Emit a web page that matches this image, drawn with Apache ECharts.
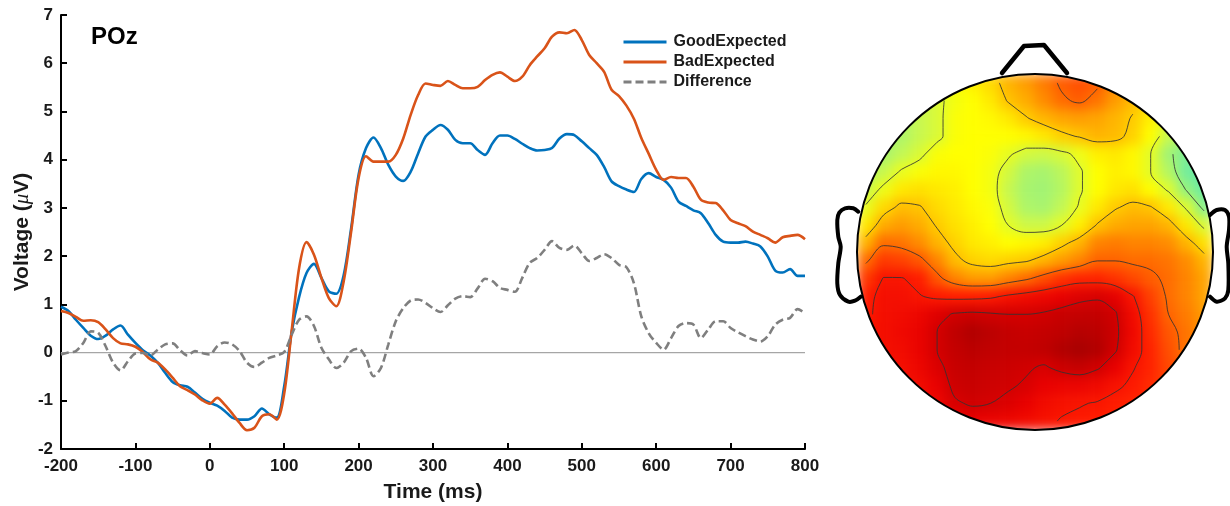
<!DOCTYPE html>
<html>
<head>
<meta charset="utf-8">
<script src="https://cdn.jsdelivr.net/npm/echarts@6/dist/echarts.min.js"></script>
<style>
  html, body { margin: 0; padding: 0; background: #ffffff; }
  #topo { position: absolute; left: 837px; top: 52px; width: 396px; height: 400px;
          filter: blur(6px); clip-path: circle(178px at 198px 200px); }
  #main { position: absolute; left: 0; top: 0; width: 1230px; height: 506px; }
</style>
</head>
<body>
<div id="topo"></div>
<div id="main"></div>
<script>
// ---------------- data ----------------
const times = [-200,-190,-180,-170,-160,-150,-140,-130,-120,-110,-100,-90,-80,-70,-60,-50,-40,-30,-20,-10,
  0,10,20,30,40,50,60,70,80,90,100,110,120,130,140,150,160,170,180,190,
  200,210,220,230,240,250,260,270,280,290,300,310,320,330,340,350,360,370,380,390,
  400,410,420,430,440,450,460,470,480,490,500,510,520,530,540,550,560,570,580,590,
  600,610,620,630,640,650,660,670,680,690,700,710,720,730,740,750,760,770,780,790,800];

const goodExpected = [0.95,0.86,0.68,0.51,0.35,0.28,0.35,0.48,0.56,0.37,0.2,0.05,-0.06,-0.21,-0.42,-0.61,-0.68,-0.71,-0.83,-0.96,
  -1.04,-1.1,-1.21,-1.35,-1.39,-1.39,-1.32,-1.16,-1.28,-1.35,-0.7,0.42,1.15,1.65,1.84,1.55,1.27,1.22,1.61,2.58,
  3.69,4.24,4.46,4.24,3.89,3.65,3.56,3.75,4.13,4.48,4.62,4.72,4.62,4.41,4.34,4.34,4.2,4.1,4.34,4.5,
  4.5,4.43,4.33,4.24,4.19,4.2,4.24,4.44,4.53,4.51,4.38,4.24,4.1,3.85,3.55,3.45,3.38,3.33,3.6,3.72,
  3.64,3.58,3.42,3.13,3.04,2.95,2.89,2.68,2.44,2.3,2.28,2.28,2.3,2.26,2.2,1.99,1.7,1.66,1.73,1.59,1.59];

const badExpected = [0.86,0.82,0.74,0.66,0.67,0.63,0.48,0.3,0.19,0.17,0.12,0.01,-0.14,-0.21,-0.35,-0.52,-0.7,-0.78,-0.87,-0.99,
  -1.06,-0.94,-1.08,-1.26,-1.46,-1.61,-1.56,-1.32,-1.28,-1.39,-0.85,0.45,1.75,2.29,2.03,1.55,1.13,0.96,1.48,2.51,
  3.62,4.07,3.96,3.96,3.96,4.1,4.44,4.93,5.34,5.58,5.55,5.53,5.63,5.55,5.48,5.48,5.51,5.65,5.76,5.81,
  5.72,5.63,5.72,5.96,6.14,6.31,6.55,6.64,6.62,6.69,6.48,6.17,6.0,5.82,5.45,5.32,5.12,4.85,4.45,4.12,
  3.79,3.58,3.64,3.62,3.62,3.44,3.17,3.11,3.1,2.95,2.75,2.68,2.62,2.51,2.44,2.37,2.28,2.39,2.42,2.44,2.35];

const difference = [-0.04,0,0.03,0.2,0.44,0.41,0.13,-0.21,-0.37,-0.18,-0.02,-0.01,-0.06,0.06,0.17,0.19,0.05,-0.06,0.03,-0.01,
  -0.04,0.13,0.21,0.17,0.03,-0.21,-0.3,-0.21,-0.11,-0.06,0.01,0.37,0.68,0.75,0.55,0.1,-0.14,-0.32,-0.21,0.03,
  0.08,-0.11,-0.49,-0.32,0.17,0.65,0.92,1.08,1.1,1.03,0.92,0.84,0.98,1.12,1.17,1.15,1.33,1.53,1.48,1.34,
  1.3,1.26,1.55,1.86,1.96,2.13,2.31,2.17,2.13,2.22,2.06,1.9,1.96,2.04,1.96,1.82,1.77,1.44,0.75,0.4,
  0.2,0.06,0.3,0.55,0.61,0.58,0.3,0.48,0.65,0.65,0.51,0.42,0.34,0.27,0.23,0.34,0.58,0.68,0.72,0.9,0.82];

const seriesNames = ['GoodExpected', 'BadExpected', 'Difference'];
const xRange = [-200, 800];
const yRange = [-2, 7];
const channelName = 'POz';

// topographic map values (rows front→back, columns left→right)
const N = null;
const topoValues = [
  [N,N,N,N,3.6,3.9,4.2,4.5,5.0,5.3,5.7,6.1,6.3,6.1,5.5,5.0,N,N,N,N],
  [N,N,N,3.0,3.3,3.8,4.0,4.3,4.8,5.1,5.5,5.9,6.1,5.8,5.3,4.9,4.5,N,N,N],
  [N,N,2.6,3.0,3.3,3.9,4.0,4.1,4.3,4.7,5.0,5.2,5.3,5.2,5.0,4.7,4.2,3.5,N,N],
  [N,2.4,2.6,3.0,3.3,3.9,4.0,4.0,4.0,4.1,4.3,4.6,4.8,5.0,4.9,4.6,4.0,3.0,2.4,N],
  [2.4,2.5,2.9,3.3,3.9,4.0,4.0,3.9,3.6,3.2,3.1,3.3,3.7,4.2,4.3,4.1,3.5,2.4,1.8,1.4],
  [2.6,3.0,3.6,3.9,4.1,4.1,4.0,3.8,3.2,2.6,2.5,2.8,3.4,4.0,4.2,4.1,3.5,2.7,1.6,1.2],
  [3.0,3.7,4.3,4.4,4.3,4.2,4.0,3.8,3.0,2.5,2.4,2.7,3.4,4.0,4.3,4.4,4.0,3.4,2.2,1.4],
  [3.6,4.5,4.9,4.8,4.5,4.3,4.1,3.9,3.2,2.6,2.5,2.9,3.6,4.3,4.7,4.9,4.8,4.3,3.4,2.0],
  [4.3,5.1,5.3,5.1,4.7,4.4,4.2,4.0,3.5,3.1,3.1,3.5,4.2,4.8,5.1,5.2,5.2,5.0,4.3,3.3],
  [5.0,5.9,5.8,5.5,5.0,4.6,4.3,4.2,4.0,4.1,4.2,4.6,5.0,5.6,5.7,5.6,5.6,5.5,5.0,4.4],
  [5.9,6.6,6.5,6.2,5.6,4.9,4.6,4.5,4.6,4.7,5.0,5.3,5.6,6.0,6.0,5.9,5.9,5.8,5.5,5.0],
  [6.6,7.3,7.3,7.0,6.2,5.6,5.3,5.3,5.6,5.9,6.3,6.7,6.9,6.9,6.7,6.4,6.1,5.9,5.6,5.2],
  [7.0,7.5,7.5,7.3,7.1,7.0,7.0,7.1,7.4,7.6,7.8,8.0,8.3,8.4,8.1,7.3,6.5,5.9,5.6,5.2],
  [7.1,7.5,7.6,7.8,8.2,8.6,8.7,8.6,8.5,8.5,8.6,8.8,8.9,8.9,8.6,7.6,6.7,6.0,5.7,5.3],
  [7.3,7.5,7.7,7.9,8.5,9.0,9.3,9.1,8.9,8.8,8.9,9.0,9.2,9.1,8.7,7.7,6.8,6.2,5.8,5.4],
  [7.4,7.5,7.6,7.9,8.5,8.9,9.1,9.0,8.9,8.9,9.0,9.3,9.5,9.3,8.6,7.6,6.9,6.3,5.8,5.5],
  [N,7.4,7.5,7.8,8.3,8.8,8.9,8.8,8.7,8.6,8.4,8.7,8.9,8.6,8.0,7.3,6.9,6.4,6.0,N],
  [N,N,7.5,7.6,8.0,8.7,8.8,8.7,8.6,8.4,8.0,7.9,7.9,7.7,7.4,7.1,6.8,6.5,N,N],
  [N,N,N,7.6,7.8,8.4,8.6,8.5,8.3,8.0,7.6,7.4,7.3,7.2,7.0,6.9,6.8,N,N,N],
  [N,N,N,N,7.7,7.9,8.0,7.9,7.8,7.6,7.4,7.2,7.1,7.0,6.9,6.8,N,N,N,N]
];
const topoLevels = [2.25, 3.5, 4.75, 6.0, 7.25, 8.5];
const topoColors = ['#2ee0d8','#58e8b4','#88f08c','#c8f850','#ffff00','#ffb400','#ff6400','#ff1c00','#e80000','#c00000','#900000'];

// ---------------- topomap (heatmap, blurred layer) ----------------
const topo = echarts.init(document.getElementById('topo'), null, { renderer: 'canvas' });
const cols = topoValues[0].map((_, i) => i);
const rows = topoValues.map((_, j) => j);
const heatData = [];
topoValues.forEach((row, j) => row.forEach((v, i) => { if (v !== null) heatData.push([i, j, v]); }));
topo.setOption({
  animation: false,
  grid: { left: 20, right: 20, top: 22, bottom: 22, outerBoundsMode: 'none', containLabel: false },
  xAxis: { type: 'category', data: cols, show: false },
  yAxis: { type: 'category', data: rows, show: false, inverse: true },
  visualMap: { show: false, min: 0, max: 10, calculable: false, inRange: { color: topoColors } },
  series: [{ type: 'heatmap', data: heatData, itemStyle: { borderWidth: 0 }, emphasis: { disabled: true } }]
});

// contour lines (marching squares on the grid values, chained into polylines)
function contourSegments(grid, level) {
  const segs = [];
  for (let j = 0; j < grid.length - 1; j++) {
    for (let i = 0; i < grid[j].length - 1; i++) {
      const a = grid[j][i], b = grid[j][i + 1], c = grid[j + 1][i + 1], d = grid[j + 1][i];
      if (a === null || b === null || c === null || d === null) continue;
      const A = [i, j], B = [i + 1, j], C = [i + 1, j + 1], D = [i, j + 1];
      const lerp = (v1, v2, p1, p2) => { const t = (level - v1) / (v2 - v1); return [p1[0] + t * (p2[0] - p1[0]), p1[1] + t * (p2[1] - p1[1])]; };
      const pts = [];
      if ((a < level) !== (b < level)) pts.push(lerp(a, b, A, B));
      if ((b < level) !== (c < level)) pts.push(lerp(b, c, B, C));
      if ((c < level) !== (d < level)) pts.push(lerp(c, d, C, D));
      if ((d < level) !== (a < level)) pts.push(lerp(d, a, D, A));
      if (pts.length === 2) segs.push([pts[0], pts[1]]);
      else if (pts.length === 4) {
        const m = (a + b + c + d) / 4;
        if ((m < level) === (a < level)) { segs.push([pts[0], pts[1]]); segs.push([pts[2], pts[3]]); }
        else { segs.push([pts[0], pts[3]]); segs.push([pts[1], pts[2]]); }
      }
    }
  }
  return segs;
}
const cR = topoValues.length / 2, cC = (topoValues.length - 1) / 2;
const inside = p => Math.hypot(p[0] - cC, p[1] - cC) <= cR - 0.05;
const key = p => p[0].toFixed(4) + ',' + p[1].toFixed(4);
function chain(segs) {
  const used = new Array(segs.length).fill(false);
  const byKey = {};
  segs.forEach((s, k) => s.forEach(p => { (byKey[key(p)] = byKey[key(p)] || []).push(k); }));
  const lines = [];
  const extend = (line) => {
    for (;;) {
      const end = line[line.length - 1];
      const cand = (byKey[key(end)] || []).find(k => !used[k]);
      if (cand === undefined) break;
      used[cand] = true;
      const s = segs[cand];
      line.push(key(s[0]) === key(end) ? s[1] : s[0]);
    }
  };
  segs.forEach((s, k) => {
    if (used[k]) return;
    used[k] = true;
    const line = [s[0], s[1]];
    extend(line);
    line.reverse();
    extend(line);
    lines.push(line);
  });
  return lines;
}
const contourSeries = [];
topoLevels.forEach(L => {
  const segs = contourSegments(topoValues, L).filter(s => inside(s[0]) && inside(s[1]));
  chain(segs).forEach(line => contourSeries.push({
    type: 'line', xAxisIndex: 1, yAxisIndex: 1, data: line, symbol: 'none', smooth: 0.35, silent: true,
    lineStyle: { color: '#333333', width: 1, opacity: 0.85 }, z: 5
  }));
});

// ---------------- ERP waveform ----------------
const chart = echarts.init(document.getElementById('main'), null, { renderer: 'canvas' });
const font = 'Liberation Sans, Arial, Helvetica, sans-serif';
const pair = arr => times.map((t, i) => [t, arr[i]]);
const axisCommon = {
  axisLine: { show: true, onZero: false, lineStyle: { color: '#000', width: 2 } },
  axisTick: { show: true, inside: true, length: 6, lineStyle: { color: '#000', width: 2 } },
  axisLabel: { color: '#1a1a1a', fontSize: 17, fontWeight: 'bold', fontFamily: font },
  splitLine: { show: false }
};

chart.setOption({
  animation: false,
  backgroundColor: 'transparent',
  title: {
    text: channelName, left: 91, top: 25, padding: 0,
    textStyle: { fontSize: 24, fontWeight: 'bold', color: '#000', fontFamily: font }
  },
  legend: {
    data: seriesNames, orient: 'vertical', left: 622, top: 34, padding: 0,
    itemWidth: 43, itemHeight: 14, itemGap: 4,
    itemStyle: { opacity: 0 },
    lineStyle: { width: 3 },
    textStyle: { fontSize: 16, fontWeight: 'bold', color: '#1a1a1a', fontFamily: font, padding: [0, 0, 0, 2] }
  },
  grid: [
    { left: 61, right: 425, top: 15, bottom: 57, outerBoundsMode: 'none', containLabel: false },
    { left: 857, top: 74, width: 356, height: 356, outerBoundsMode: 'none', containLabel: false }
  ],
  xAxis: [
    Object.assign({}, axisCommon, {
      type: 'value', min: xRange[0], max: xRange[1], interval: 100, gridIndex: 0,
      axisLabel: Object.assign({}, axisCommon.axisLabel, { margin: 9 }),
      name: 'Time (ms)', nameLocation: 'middle', nameGap: 33, nameMoveOverlap: false,
      nameTextStyle: { fontSize: 21, fontWeight: 'bold', color: '#1a1a1a', fontFamily: font }
    }),
    { type: 'value', gridIndex: 1, min: -0.5, max: topoValues[0].length - 0.5, show: false }
  ],
  yAxis: [
    Object.assign({}, axisCommon, {
      type: 'value', min: yRange[0], max: yRange[1], interval: 1, gridIndex: 0,
      axisLabel: Object.assign({}, axisCommon.axisLabel, { margin: 8 }),
      name: 'Voltage ({mu|μ}V)', nameLocation: 'middle', nameGap: 28, nameRotate: 90, nameMoveOverlap: false,
      nameTextStyle: {
        fontSize: 21, fontWeight: 'bold', color: '#1a1a1a', fontFamily: font,
        rich: { mu: { fontSize: 21, fontStyle: 'italic', fontWeight: 'normal', color: '#1a1a1a', fontFamily: 'Liberation Serif, serif' } }
      }
    }),
    { type: 'value', gridIndex: 1, min: -0.5, max: topoValues.length - 0.5, inverse: true, show: false }
  ],
  series: [
    { name: 'zero', type: 'line', data: [[xRange[0], 0], [xRange[1], 0]], symbol: 'none', silent: true,
      lineStyle: { color: '#a6a6a6', width: 1.3 }, z: 1 },
    { name: seriesNames[0], type: 'line', data: pair(goodExpected), symbol: 'none', smooth: 0.3,
      lineStyle: { color: '#0072BD', width: 2.6 }, itemStyle: { color: '#0072BD' }, z: 2 },
    { name: seriesNames[1], type: 'line', data: pair(badExpected), symbol: 'none', smooth: 0.3,
      lineStyle: { color: '#D95319', width: 2.6 }, itemStyle: { color: '#D95319' }, z: 3 },
    { name: seriesNames[2], type: 'line', data: pair(difference), symbol: 'none', smooth: 0.3,
      lineStyle: { color: '#7f7f7f', width: 2.6, type: [8, 4] }, itemStyle: { color: '#7f7f7f' }, z: 4 }
  ].concat(contourSeries),
  graphic: [
    { type: 'circle', shape: { cx: 1035, cy: 252, r: 178 }, style: { fill: 'none', stroke: '#000', lineWidth: 2 }, z: 100 },
    { type: 'polyline', shape: { points: [[1002, 73], [1024, 46], [1044, 45], [1067, 73]] },
      style: { fill: 'none', stroke: '#000', lineWidth: 4.5, lineJoin: 'round', lineCap: 'round' }, z: 100 },
    { type: 'polyline', shape: { smooth: 0.3, points: [[858.3, 211.7], [853.3, 208.3], [845, 208.3], [839.3, 212.7], [837.3, 220],
        [838.3, 236.7], [840.7, 246.7], [838.3, 263.3], [837.3, 283.3], [840, 295], [848.3, 301.7], [855, 300.7], [860.7, 296.7]] },
      style: { fill: 'none', stroke: '#000', lineWidth: 4, lineJoin: 'round', lineCap: 'round' }, z: 100 },
    { type: 'polyline', shape: { smooth: 0.3, points: [[1210, 215], [1216.7, 210], [1225, 210], [1229, 216.7], [1229, 230],
        [1226.7, 246.7], [1228.3, 263.3], [1228.3, 290], [1225, 298.3], [1216.7, 301.7], [1210, 296.7]] },
      style: { fill: 'none', stroke: '#000', lineWidth: 4, lineJoin: 'round', lineCap: 'round' }, z: 100 }
  ]
});
</script>
</body>
</html>
